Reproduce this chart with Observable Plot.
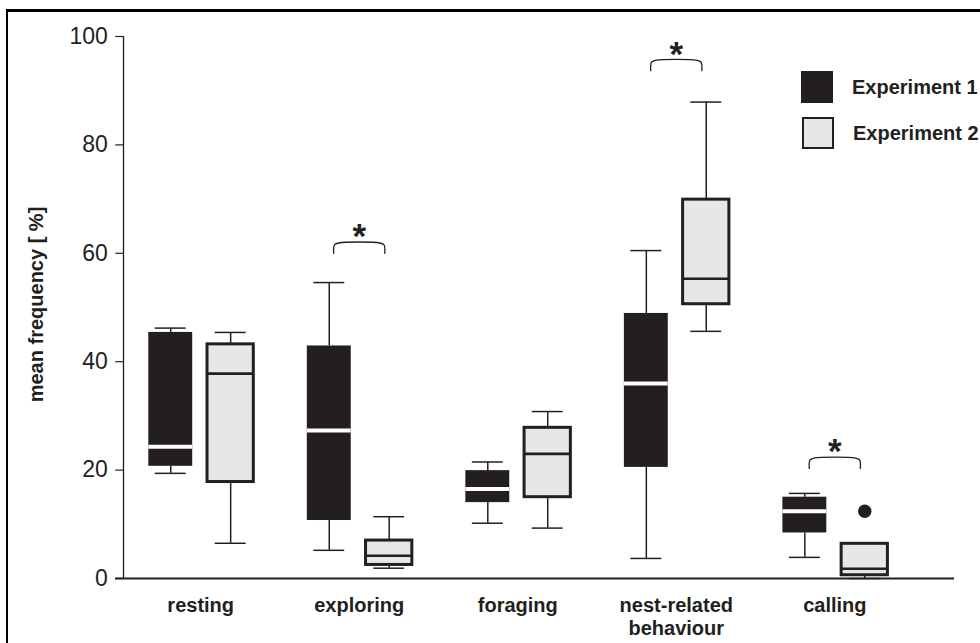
<!DOCTYPE html>
<html>
<head>
<meta charset="utf-8">
<script src="https://cdn.jsdelivr.net/npm/d3@7"></script>
<script src="https://cdn.jsdelivr.net/npm/@observablehq/plot@0.6"></script>
<style>
  html, body { margin: 0; padding: 0; background: #fff; }
  #wrap { position: relative; width: 980px; height: 643px; overflow: hidden; font-family: "Liberation Sans", Arial, sans-serif; color: #231f20; }
  #frame { position: absolute; left: 6px; top: 9px; width: 2000px; height: 2000px; border-left: 2.5px solid #000; border-top: 3px solid #000; }
  #chart { position: absolute; left: 0; top: 0; }
  .legend-item { position: absolute; display: flex; align-items: center; font-weight: bold; font-size: 20px; }
  .sw { width: 32px; height: 32px; box-sizing: border-box; margin-right: 19px; }
</style>
</head>
<body>
<div id="wrap">
  <div id="frame"></div>
  <div id="chart"></div>
  <div class="legend-item" style="left:801px; top:71px;"><div class="sw" style="background:#231f20;"></div><span>Experiment 1</span></div>
  <div class="legend-item" style="left:802px; top:117px;"><div class="sw" style="background:#e6e7e8; border:2px solid #231f20;"></div><span>Experiment 2</span></div>
</div>
<script>
// ---- data ----
const categories = ["resting", "exploring", "foraging", "nest-related\nbehaviour", "calling"];
const series = ["Experiment 1", "Experiment 2"];

// Experiment 1
const exp1Low    = [19.4,  5.2, 10.2,  3.7,  3.9];
const exp1Q1     = [20.7, 10.7, 14.0, 20.5,  8.4];
const exp1Median = [24.3, 27.3, 16.5, 36.0, 12.4];
const exp1Q3     = [45.4, 42.9, 19.9, 48.9, 15.0];
const exp1High   = [46.2, 54.6, 21.5, 60.5, 15.7];

// Experiment 2
const exp2Low    = [ 6.5,  1.9,  9.3, 45.6,  0.0];
const exp2Q1     = [17.8,  2.5, 15.0, 50.6,  0.6];
const exp2Median = [37.8,  4.2, 23.0, 55.3,  1.8];
const exp2Q3     = [43.2,  7.0, 27.8, 69.9,  6.4];
const exp2High   = [45.4, 11.4, 30.8, 87.9,  6.4];

// outliers
const outlierCategory = ["calling"];
const outlierSeries = ["Experiment 2"];
const outlierValue = [12.4];

// significance markers
const sigCategory = ["exploring", "nest-related\nbehaviour", "calling"];
const sigLevel = [61.9, 95.6, 22.2];
const sigLabel = ["*", "*", "*"];

const yTicks = [0, 20, 40, 60, 80, 100];
const yLabel = "mean frequency [ %]";

// ---- build tables ----
const DARK = "#231f20", GREY = "#e6e7e8";
const OFF = 0.189;            // series offset from category centre
const HALF = [0.1385, 0.146]; // half box widths
const CAP = 0.0975;           // half cap width
const catIndex = c => categories.indexOf(c);
const serIndex = s => series.indexOf(s);
const sets = [
  [exp1Low, exp1Q1, exp1Median, exp1Q3, exp1High],
  [exp2Low, exp2Q1, exp2Median, exp2Q3, exp2High]
];
const boxes = [];
series.forEach((s, si) => {
  categories.forEach((c, ci) => {
    const [lo, q1, md, q3, hi] = sets[si].map(a => a[ci]);
    const cx = ci + (si === 0 ? -OFF : OFF);
    boxes.push({s, si, c, cx, lo, q1, md, q3, hi, x1: cx - HALF[si], x2: cx + HALF[si]});
  });
});
const outliers = outlierValue.map((v, i) => ({
  x: catIndex(outlierCategory[i]) + (serIndex(outlierSeries[i]) === 0 ? -OFF : OFF), y: v
}));
const BH = 0.161, DROP = 1.9;
const brackets = [];
sigCategory.forEach((c, i) => {
  const x = catIndex(c), t = sigLevel[i];
  const pts = [[x - BH, t - DROP], [x - BH, t - 0.8], [x - BH + 0.006, t - 0.3], [x - BH + 0.03, t],
               [x + BH - 0.03, t], [x + BH - 0.006, t - 0.3], [x + BH, t - 0.8], [x + BH, t - DROP]];
  pts.forEach(([px, py]) => brackets.push({id: i, x: px, y: py}));
});
const stars = sigCategory.map((c, i) => ({x: catIndex(c), y: sigLevel[i], label: sigLabel[i]}));

const xDomain = [-0.487, 4.755];

const chart = Plot.plot({
  width: 980,
  height: 643,
  marginLeft: 123,
  marginRight: 26,
  marginTop: 36,
  marginBottom: 65,
  x: {domain: xDomain},
  y: {domain: [0, 100]},
  style: {fontFamily: '"Liberation Sans", Arial, sans-serif', color: DARK, background: "transparent", overflow: "visible"},
  marks: [
    Plot.axisY({ticks: yTicks, tickSize: 7.7, tickPadding: 8, fontSize: 23, stroke: DARK, strokeWidth: 1.2, label: null}),
    Plot.axisX({ticks: d3.range(categories.length), tickFormat: i => categories[i], tickSize: 0, tickPadding: 17,
                fontSize: 20, fontWeight: "bold", lineHeight: 1.15, label: null}),
    Plot.ruleX([xDomain[0]], {y1: 0, y2: 100, stroke: DARK, strokeWidth: 1.3}),
    Plot.text([yLabel], {frameAnchor: "left", textAnchor: "middle", dx: -87, dy: -3, rotate: -90, fontSize: 20, fontWeight: "bold",
              fill: DARK}),
    // whiskers
    Plot.ruleX(boxes, {x: "cx", y1: "lo", y2: "q1", stroke: DARK, strokeWidth: 1.5}),
    Plot.ruleX(boxes, {x: "cx", y1: "q3", y2: "hi", stroke: DARK, strokeWidth: 1.5}),
    Plot.ruleY(boxes.filter(d => d.lo < d.q1), {y: "lo", x1: d => d.cx - CAP, x2: d => d.cx + CAP, stroke: DARK, strokeWidth: 1.5}),
    Plot.ruleY(boxes.filter(d => d.hi > d.q3), {y: "hi", x1: d => d.cx - CAP, x2: d => d.cx + CAP, stroke: DARK, strokeWidth: 1.5}),
    // boxes
    Plot.rect(boxes.filter(d => d.si === 0), {x1: "x1", x2: "x2", y1: "q1", y2: "q3", fill: DARK}),
    Plot.rect(boxes.filter(d => d.si === 1), {x1: "x1", x2: "x2", y1: "q1", y2: "q3", fill: GREY, stroke: DARK, strokeWidth: 3}),
    // medians
    Plot.ruleY(boxes.filter(d => d.si === 0), {y: "md", x1: "x1", x2: "x2", stroke: "#fff", strokeWidth: 4}),
    Plot.ruleY(boxes.filter(d => d.si === 1), {y: "md", x1: "x1", x2: "x2", stroke: DARK, strokeWidth: 2.6}),
    // outliers
    Plot.dot(outliers, {x: "x", y: "y", r: 6.7, fill: DARK, stroke: "none"}),
    // baseline
    Plot.ruleY([0], {stroke: DARK, strokeWidth: 2.2, insetLeft: -8}),
    // significance
    Plot.line(brackets, {x: "x", y: "y", z: "id", stroke: DARK, strokeWidth: 1.3, curve: "catmull-rom"}),
    Plot.text(stars, {x: "x", y: "y", text: "label", fontSize: 35, fontWeight: "bold", fill: DARK, dy: -6})
  ]
});
document.getElementById("chart").appendChild(chart);
</script>
</body>
</html>
